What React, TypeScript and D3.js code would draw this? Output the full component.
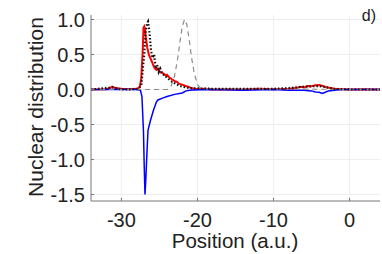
import React from "react";
import * as d3 from "d3";

// series (position in a.u., nuclear distribution)
const redX = [-34, -32, -31.5, -31.2, -30.8, -30, -29, -28, -27.6, -27.4, -27.2, -27.1, -27.0, -26.9, -26.8, -26.6, -26.4, -26.2, -26.0, -25.8, -25.6, -25.4, -25.2, -25.0, -24.8, -24.5, -24.2, -24.0, -23.7, -23.4, -23.0, -22.7, -22.4, -22.0, -21.6, -21.2, -20.8, -20.4, -20, -19, -18, -16, -14, -12, -10, -8, -7, -6.5, -6, -5.5, -5, -4.5, -4, -3.5, -3, -2.5, -2, -1, 0, 2, 4];
const redY = [0, 0.005, 0.02, 0.04, 0.02, 0.01, 0.005, 0.01, 0.03, 0.15, 0.55, 0.88, 0.9, 0.85, 0.75, 0.6, 0.5, 0.45, 0.4, 0.34, 0.3, 0.28, 0.3, 0.26, 0.24, 0.23, 0.2, 0.21, 0.17, 0.15, 0.12, 0.11, 0.08, 0.07, 0.05, 0.04, 0.02, 0.01, 0.005, 0.01, 0, 0.005, 0, 0.01, 0.005, 0.01, 0.02, 0.04, 0.03, 0.05, 0.045, 0.06, 0.065, 0.05, 0.03, 0.02, 0.01, 0.005, 0, 0.005, 0];

const blueX = [-34, -30, -28, -27.5, -27.3, -27.1, -27.0, -26.9, -26.8, -26.6, -26.5, -26.2, -25.8, -25.4, -25.2, -24.5, -24, -23, -22, -21.5, -21, -20, -18, -14, -10, -8, -6, -5, -4.5, -4, -3.6, -3.2, -2.8, -2, -1, 0, 4];
const blueY = [0, 0, 0, -0.01, -0.1, -0.6, -1.1, -1.5, -1.3, -0.8, -0.58, -0.45, -0.3, -0.18, -0.15, -0.12, -0.1, -0.07, -0.05, -0.02, -0.01, -0.005, 0, -0.01, 0, -0.01, -0.01, -0.02, -0.035, -0.04, -0.055, -0.04, -0.02, -0.01, 0, 0, 0];

const dotX = [-34, -31.2, -30, -28, -27.4, -27.0, -26.8, -26.6, -26.5, -26.3, -26.1, -25.9, -25.7, -25.5, -25.3, -25.1, -24.9, -24.6, -24.3, -24, -23.5, -23, -22.5, -22, -21.5, -21, -20, -18, -15, -12, -10, -8, -6, -4, -2, 0, 4];
const dotY = [0, 0.03, 0, 0.005, 0.05, 0.5, 0.85, 0.95, 0.97, 0.8, 0.55, 0.45, 0.5, 0.3, 0.35, 0.25, 0.3, 0.22, 0.2, 0.17, 0.12, 0.09, 0.06, 0.04, 0.03, 0.02, 0.015, 0.01, 0.01, 0.01, 0.01, 0.02, 0.04, 0.05, 0.01, 0, 0];

const dashX = [-34, -24, -23.5, -23, -22.6, -22.3, -22, -21.7, -21.4, -21.1, -20.8, -20.4, -20, -19.5, 4];
const dashY = [0, 0, 0.04, 0.2, 0.44, 0.68, 0.9, 1.0, 0.93, 0.72, 0.47, 0.22, 0.07, 0.01, 0];

const xTicks = [-30, -20, -10, 0];
const yTicks = [1.0, 0.5, 0.0, -0.5, -1.0, -1.5];

const W = 382, H = 254;
const left = 91, right = 380, top = 15, bottom = 201;

export default function App() {
  const x = d3.scaleLinear().domain([-34, 4]).range([left, right]);
  const y = d3.scaleLinear().domain([1.064, -1.593]).range([top, bottom]);
  const line = d3.line<[number, number]>().x(d => x(d[0])).y(d => y(d[1]));
  const pts = (xs: number[], ys: number[]) => xs.map((v, i) => [v, ys[i]] as [number, number]);
  const font = "'Liberation Sans', Arial, sans-serif";

  return (
    <svg width={W} height={H} style={{ position: "absolute", left: 0, top: 0 }} fontFamily={font}>
      <rect width={W} height={H} fill="white" />
      {xTicks.map(t => (
        <line key={"gx" + t} x1={x(t)} x2={x(t)} y1={top} y2={bottom} stroke="#efefef" strokeWidth={1} />
      ))}
      {yTicks.map(t => (
        <line key={"gy" + t} x1={left} x2={right} y1={y(t)} y2={y(t)} stroke="#efefef" strokeWidth={1} />
      ))}
      <path d={line(pts(redX, redY)) ?? ""} fill="none" stroke="#ff0000" strokeWidth={2} />
      <path d={line(pts(blueX, blueY)) ?? ""} fill="none" stroke="#0000ff" strokeWidth={1.5} />
      <path d={line(pts(dashX, dashY)) ?? ""} fill="none" stroke="#8c8c8c" strokeWidth={1.2} strokeDasharray="5,4" />
      <path d={line(pts(dotX, dotY)) ?? ""} fill="none" stroke="#111" strokeWidth={2.2} strokeDasharray="1.5,2" />
      <line x1={left} x2={left} y1={top} y2={bottom} stroke="#777" strokeWidth={1} />
      <line x1={left} x2={right} y1={bottom} y2={bottom} stroke="#777" strokeWidth={1} />
      {yTicks.map(t => (
        <g key={"ty" + t}>
          <line x1={left} x2={left + 3} y1={y(t)} y2={y(t)} stroke="#777" />
          <text x={left - 6} y={y(t)} dy="0.36em" textAnchor="end" fontSize={20} fill="#222">
            {t.toFixed(1)}
          </text>
        </g>
      ))}
      {xTicks.map(t => (
        <g key={"tx" + t}>
          <line x1={x(t)} x2={x(t)} y1={bottom} y2={bottom - 3} stroke="#777" />
          <text x={x(t)} y={227} textAnchor="middle" fontSize={20} fill="#222">
            {t}
          </text>
        </g>
      ))}
      <text x={235} y={248} textAnchor="middle" fontSize={20.5} fill="#222">
        Position (a.u.)
      </text>
      <text transform={`translate(43,107) rotate(-90)`} textAnchor="middle" fontSize={21} fill="#222">
        Nuclear distribution
      </text>
      <text x={376} y={21} textAnchor="end" fontSize={16} fill="#222">
        d)
      </text>
    </svg>
  );
}
